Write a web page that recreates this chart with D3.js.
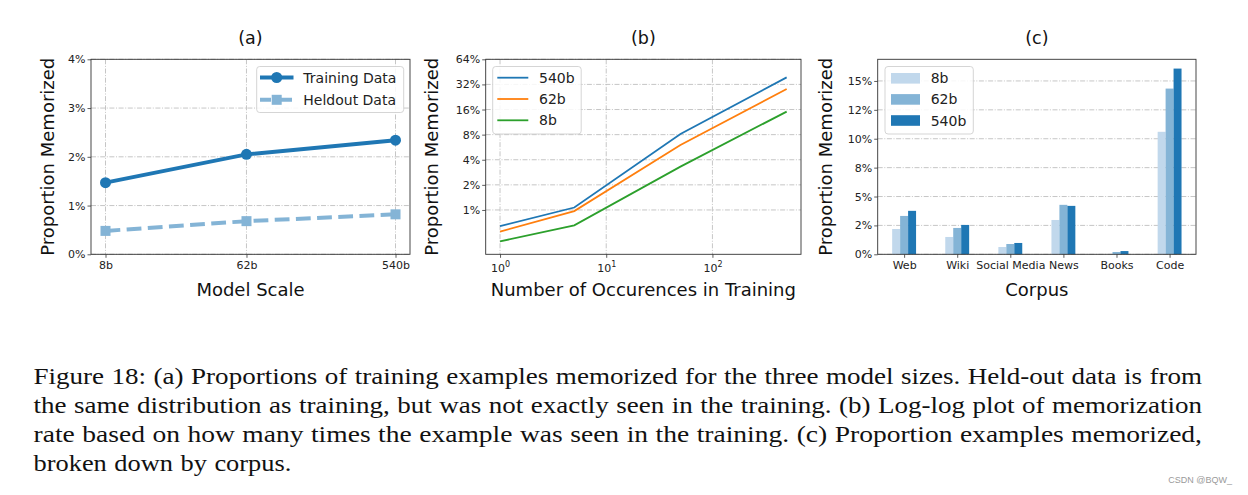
<!DOCTYPE html>
<html><head><meta charset="utf-8">
<script src="https://cdn.jsdelivr.net/npm/d3@7"></script>
<style>body{margin:0;background:#fff}svg{display:block}</style>
</head><body><svg id="c" width="1248" height="495"></svg>
<script>
// ---------- data ----------
const modelSizes = ["8b", "62b", "540b"];
const modelParams = [8, 62, 540];
const trainingData = [1.47, 2.05, 2.34];
const heldoutData = [0.48, 0.68, 0.82];
const aYTicks = [0, 1, 2, 3, 4];

const occurrences = [1, 5, 50, 500];
const mem540b = [0.64, 1.07, 8.15, 38.9];
const mem62b = [0.55, 0.97, 6.0, 28.2];
const mem8b = [0.42, 0.655, 3.31, 15.1];
const bSeriesNames = ["540b", "62b", "8b"];
const bYTicks = [1, 2, 4, 8, 16, 32, 64];
const bXTicks = [1, 10, 100];

const corpora = ["Web", "Wiki", "Social Media", "News", "Books", "Code"];
const corpus8b = [2.19, 1.5, 0.63, 2.97, 0.0, 10.6];
const corpus62b = [3.32, 2.28, 0.89, 4.28, 0.2, 14.34];
const corpus540b = [3.76, 2.54, 0.98, 4.19, 0.28, 16.07];
const cSeriesNames = ["8b", "62b", "540b"];
const cYTicks = [0, 2.5, 5, 7.5, 10, 12.5, 15];
const cYTickLabels = ["0%", "2%", "5%", "8%", "10%", "12%", "15%"];

const panelTitles = ["(a)", "(b)", "(c)"];
const xLabels = ["Model Scale", "Number of Occurences in Training", "Corpus"];
const yLabel = "Proportion Memorized";

const captionLines = [
  "Figure 18: (a) Proportions of training examples memorized for the three model sizes. Held-out data is from",
  "the same distribution as training, but was not exactly seen in the training. (b) Log-log plot of memorization",
  "rate based on how many times the example was seen in the training. (c) Proportion examples memorized,",
  "broken down by corpus."
];
const watermark = "CSDN @BQW_";

// ---------- style ----------
const FONT = "DejaVu Sans, sans-serif";
const BLUE = "#1f77b4", ORANGE = "#ff7f0e", GREEN = "#2ca02c";
const BLUE_MID = "#84b4d6", BLUE_LIGHT = "#c1d8ec";
const TOP = 59.3, BOT = 254.3;

const svg = d3.select("#c");
svg.append("rect").attr("width", 1248).attr("height", 495).attr("fill", "#fff");

function logPad(a, b, base) {
  const la = Math.log(a) / Math.log(base), lb = Math.log(b) / Math.log(base), m = (lb - la) * 0.05;
  return [Math.pow(base, la - m), Math.pow(base, lb + m)];
}

function panelFrame(g, x0, x1, x, y, xt, yt, title, xl, ylx) {
  const grid = g.append("g").attr("stroke", "#b8b8b8").attr("stroke-width", 0.8)
    .attr("stroke-dasharray", "5,1.6,1,1.6");
  if (xt) xt.forEach(v => grid.append("line").attr("x1", x(v)).attr("x2", x(v)).attr("y1", TOP).attr("y2", BOT));
  yt.forEach(v => grid.append("line").attr("x1", x0).attr("x2", x1).attr("y1", y(v)).attr("y2", y(v)));
  g.append("text").attr("x", (x0 + x1) / 2).attr("y", 44).attr("text-anchor", "middle")
    .attr("font-family", FONT).attr("font-size", 17.5).attr("fill", "#111").text(title);
  g.append("text").attr("x", (x0 + x1) / 2).attr("y", 296).attr("text-anchor", "middle")
    .attr("font-family", FONT).attr("font-size", 18).attr("fill", "#111").text(xl);
  g.append("text").attr("transform", `translate(${ylx},${(TOP + BOT) / 2}) rotate(-90)`)
    .attr("text-anchor", "middle").attr("font-family", FONT).attr("font-size", 18).attr("fill", "#111").text(yLabel);
}

function styleAxis(sel) {
  sel.select(".domain").remove();
  sel.selectAll(".tick line").attr("stroke", "#333").attr("stroke-width", 0.8);
  sel.selectAll(".tick text").attr("font-family", FONT).attr("font-size", 11).attr("fill", "#222");
}

function frame(g, x0, x1) {
  g.append("rect").attr("x", x0).attr("y", TOP).attr("width", x1 - x0).attr("height", BOT - TOP)
    .attr("fill", "none").attr("stroke", "#333").attr("stroke-width", 0.9);
}

function legendBox(g, x, y, w, h) {
  g.append("rect").attr("x", x).attr("y", y).attr("width", w).attr("height", h).attr("rx", 3)
    .attr("fill", "#fff").attr("fill-opacity", 0.85).attr("stroke", "#d0d0d0").attr("stroke-width", 0.9);
}

// ---------- panel (a) ----------
{
  const x0 = 91, x1 = 410;
  const g = svg.append("g");
  const x = d3.scaleLog().domain(logPad(modelParams[0], modelParams[2], 10)).range([x0, x1]);
  const y = d3.scaleLinear().domain([0, 4]).range([BOT, TOP]);
  panelFrame(g, x0, x1, x, y, modelParams, aYTicks, panelTitles[0], xLabels[0], 54);

  const line = d3.line().x((d, i) => x(modelParams[i])).y(d => y(d));
  g.append("path").datum(heldoutData).attr("d", line).attr("fill", "none").attr("stroke", BLUE_MID)
    .attr("stroke-width", 4).attr("stroke-dasharray", "14.8,6.4");
  g.selectAll(".sq").data(heldoutData).enter().append("rect")
    .attr("x", (d, i) => x(modelParams[i]) - 5).attr("y", d => y(d) - 5).attr("width", 10).attr("height", 10).attr("fill", BLUE_MID);
  g.append("path").datum(trainingData).attr("d", line).attr("fill", "none").attr("stroke", BLUE).attr("stroke-width", 4);
  g.selectAll(".ci").data(trainingData).enter().append("circle")
    .attr("cx", (d, i) => x(modelParams[i])).attr("cy", d => y(d)).attr("r", 5.5).attr("fill", BLUE);

  frame(g, x0, x1);
  const ax = g.append("g").attr("transform", `translate(0,${BOT})`)
    .call(d3.axisBottom(x).tickValues(modelParams).tickFormat((d, i) => modelSizes[i]).tickSize(3.5).tickPadding(3));
  styleAxis(ax);
  const ay = g.append("g").attr("transform", `translate(${x0},0)`)
    .call(d3.axisLeft(y).tickValues(aYTicks).tickFormat(d => d + "%").tickSize(3.5).tickPadding(2));
  styleAxis(ay);

  legendBox(g, 256.7, 66.5, 147, 46);
  const rows = [
    {name: "Training Data", color: BLUE, dash: null, mark: "c"},
    {name: "Heldout Data", color: BLUE_MID, dash: "11,10", mark: "s"}
  ];
  rows.forEach((r, i) => {
    const cy = 77.5 + i * 22.3;
    g.append("line").attr("x1", 260).attr("x2", 293.5).attr("y1", cy).attr("y2", cy)
      .attr("stroke", r.color).attr("stroke-width", 4).attr("stroke-dasharray", r.dash);
    if (r.mark === "c") g.append("circle").attr("cx", 276.7).attr("cy", cy).attr("r", 5.5).attr("fill", r.color);
    else g.append("rect").attr("x", 271.7).attr("y", cy - 5).attr("width", 10).attr("height", 10).attr("fill", r.color);
    g.append("text").attr("x", 303.3).attr("y", cy).attr("dy", "0.36em").attr("font-family", FONT)
      .attr("font-size", 14).attr("fill", "#222").text(r.name);
  });
}

// ---------- panel (b) ----------
{
  const x0 = 485.7, x1 = 801;
  const g = svg.append("g");
  const x = d3.scaleLog().domain(logPad(occurrences[0], occurrences[3], 10)).range([x0, x1]);
  const y = d3.scaleLog().base(2).domain([0.294, 64]).range([BOT, TOP]);
  panelFrame(g, x0, x1, x, y, bXTicks, bYTicks, panelTitles[1], xLabels[1], 437.5);

  const series = [mem540b, mem62b, mem8b];
  const colors = [BLUE, ORANGE, GREEN];
  const line = d3.line().x((d, i) => x(occurrences[i])).y(d => y(d));
  series.forEach((s, k) => {
    g.append("path").datum(s).attr("d", line).attr("fill", "none").attr("stroke", colors[k]).attr("stroke-width", 1.8);
  });

  frame(g, x0, x1);
  const ax = g.append("g").attr("transform", `translate(0,${BOT})`)
    .call(d3.axisBottom(x).tickValues(bXTicks).tickFormat("").tickSize(3.5).tickPadding(3));
  styleAxis(ax);
  ax.selectAll(".tick").each(function(d) {
    const t = d3.select(this).append("text").attr("y", 17.5).attr("text-anchor", "middle")
      .attr("font-family", FONT).attr("font-size", 11).attr("fill", "#222");
    t.append("tspan").text("10");
    t.append("tspan").attr("dy", -5).attr("font-size", 8).text(Math.round(Math.log10(d)));
  });
  const ay = g.append("g").attr("transform", `translate(${x0},0)`)
    .call(d3.axisLeft(y).tickValues(bYTicks).tickFormat(d => d + "%").tickSize(3.5).tickPadding(2));
  styleAxis(ay);

  legendBox(g, 492.7, 66.5, 88.5, 67.5);
  bSeriesNames.forEach((n, i) => {
    const cy = 77.7 + i * 21.3;
    g.append("line").attr("x1", 497.3).attr("x2", 528.3).attr("y1", cy).attr("y2", cy)
      .attr("stroke", colors[i]).attr("stroke-width", 1.8);
    g.append("text").attr("x", 539).attr("y", cy).attr("dy", "0.36em").attr("font-family", FONT)
      .attr("font-size", 14).attr("fill", "#222").text(n);
  });
}

// ---------- panel (c) ----------
{
  const x0 = 877.7, x1 = 1196;
  const g = svg.append("g");
  const idx = corpora.map((d, i) => i);
  const bw = 0.15;
  const lo = -bw * 1.5, hi = corpora.length - 1 + bw * 1.5, m = (hi - lo) * 0.05;
  const x = d3.scaleLinear().domain([lo - m, hi + m]).range([x0, x1]);
  const maxV = d3.max(corpus540b.concat(corpus62b, corpus8b));
  const y = d3.scaleLinear().domain([0, maxV * 1.05]).range([BOT, TOP]);
  panelFrame(g, x0, x1, x, y, null, cYTicks, panelTitles[2], xLabels[2], 832);

  const series = [corpus8b, corpus62b, corpus540b];
  const colors = [BLUE_LIGHT, BLUE_MID, BLUE];
  series.forEach((s, k) => {
    g.selectAll(".b" + k).data(s).enter().append("rect")
      .attr("x", (d, i) => x(i + (k - 1) * bw - bw / 2))
      .attr("width", x(bw) - x(0))
      .attr("y", d => y(d)).attr("height", d => y(0) - y(d)).attr("fill", colors[k]);
  });

  frame(g, x0, x1);
  const ax = g.append("g").attr("transform", `translate(0,${BOT})`)
    .call(d3.axisBottom(x).tickValues(idx).tickFormat(i => corpora[i]).tickSize(3.5).tickPadding(3));
  styleAxis(ax);
  const ay = g.append("g").attr("transform", `translate(${x0},0)`)
    .call(d3.axisLeft(y).tickValues(cYTicks).tickFormat((d, i) => cYTickLabels[i]).tickSize(3.5).tickPadding(2));
  styleAxis(ay);

  legendBox(g, 885, 66.5, 88.3, 67.5);
  cSeriesNames.forEach((n, i) => {
    const cy = 78.3 + i * 21.1;
    g.append("rect").attr("x", 891).attr("y", cy - 5.3).attr("width", 29).attr("height", 10.6).attr("fill", colors[i]);
    g.append("text").attr("x", 930.7).attr("y", cy).attr("dy", "0.36em").attr("font-family", FONT)
      .attr("font-size", 14).attr("fill", "#222").text(n);
  });
}

// ---------- caption: one text per word, justified, glyphs widened ----------
{
  const left = 33.5, right = 1202, W = right - left, SP = 7.5;
  const cg = svg.append("g").attr("font-family", "Liberation Serif, Times New Roman, serif")
    .attr("font-size", 24).attr("fill", "#111");
  captionLines.forEach((ln, li) => {
    const yb = 383.5 + li * 29.2;
    const words = ln.split(" ");
    const ts = words.map(w => cg.append("text").attr("y", yb).text(w));
    const lens = ts.map(t => t.node().getComputedTextLength());
    const total = d3.sum(lens);
    const last = li === captionLines.length - 1;
    const k = last ? 1.1 : (W - SP * (words.length - 1)) / total;
    let cx = left;
    ts.forEach((t, i) => {
      const w = lens[i] * k;
      t.attr("x", cx).attr("textLength", w).attr("lengthAdjust", "spacingAndGlyphs");
      cx += w + SP;
    });
  });
}

svg.append("text").attr("x", 1232).attr("y", 483).attr("text-anchor", "end")
  .attr("font-family", "Liberation Sans, Arial, sans-serif").attr("font-size", 9).attr("fill", "#9a9a9a").text(watermark);
</script>
</body></html>
